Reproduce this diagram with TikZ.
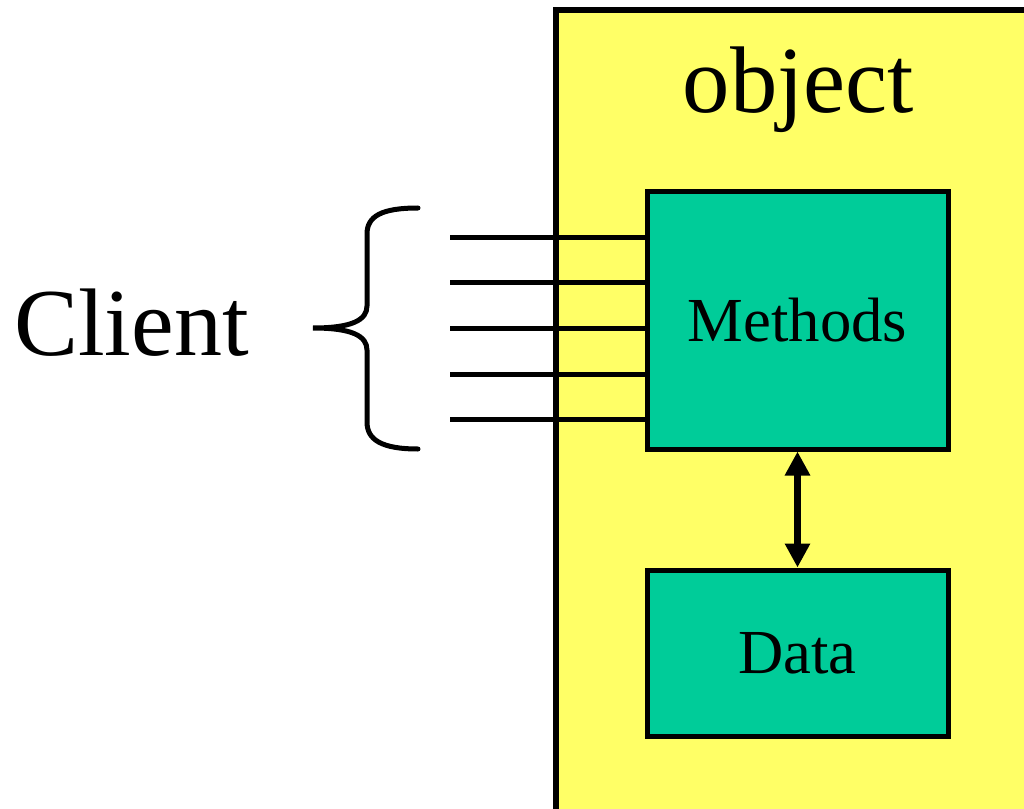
\documentclass[tikz,border=0pt]{standalone}
\usepackage{fontspec}
\setmainfont{Liberation Serif}
\usetikzlibrary{arrows.meta}
\definecolor{objyellow}{RGB}{255,255,102}
\definecolor{boxgreen}{RGB}{0,204,153}
\tikzset{
  greenbox/.style={draw=black, fill=boxgreen, line width=3.75pt, inner sep=0pt,
    minimum width=225.75pt, font=\fontsize{47}{56}\selectfont},
  wire/.style={line width=3.75pt},
  bracestyle/.style={line width=3.75pt, line cap=round},
  bigtext/.style={inner sep=0pt, font=\fontsize{72}{86}\selectfont},
  twoway/.style={line width=5.25pt, {Triangle[width=18pt,length=18pt]}-{Triangle[width=18pt,length=18pt]}}
}
\begin{document}
\begin{tikzpicture}[x=0.75pt, y=-0.75pt]
\useasboundingbox (0,0) rectangle (1024,809);
\clip (0,0) rectangle (1024,809);
% object container
\draw[fill=objyellow, line width=4.2pt] (556,10) rectangle (1060,850);
\node[bigtext, anchor=base, font=\fontsize{71}{85}\selectfont] (objlabel) at (798.5,113) {object};
% boxes
\node[greenbox, minimum height=192.75pt] (methods) at (797.5,320.5) {Methods};
\node[greenbox, minimum height=124.5pt] (data) at (797.5,653) {Data};
\draw[twoway] (methods.south) -- (data.north);
% client wires
\foreach \i/\yy in {1/237.7, 2/282.7, 3/328, 4/374, 5/419} {
  \coordinate (w\i) at (450,\yy);
  \draw[wire] (w\i) -- (w\i -| methods.west);
}
% brace
\draw[bracestyle] (418,208) .. controls (382,208) and (367,216) .. (367,234)
  -- (367,306) .. controls (367,320) and (352,328) .. (313,328)
  .. controls (352,328) and (367,336) .. (367,350)
  -- (367,422) .. controls (367,440) and (382,449) .. (418,449);
\node[bigtext, anchor=base west] (client) at (14,355) {Client};
\end{tikzpicture}
\end{document}
